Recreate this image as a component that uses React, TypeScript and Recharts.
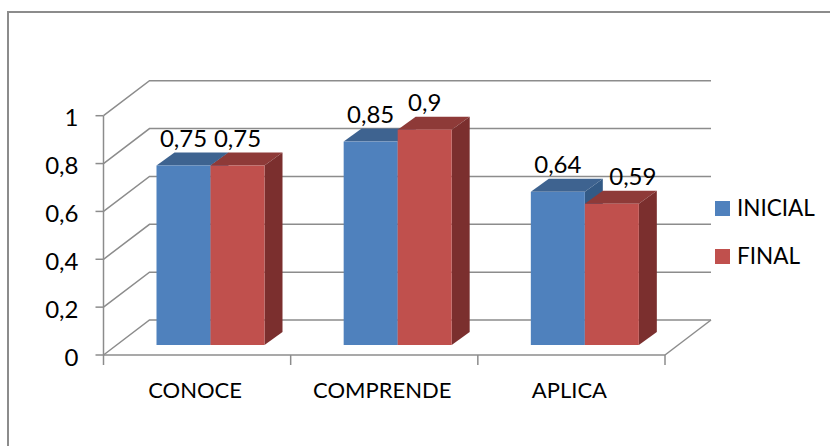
import { BarChart, Bar, XAxis, YAxis, CartesianGrid, Legend, LabelList } from 'recharts'

const categories = ['CONOCE', 'COMPRENDE', 'APLICA']
const inicial = [0.75, 0.85, 0.64]
const final = [0.75, 0.9, 0.59]
const yTicks = [0, 0.2, 0.4, 0.6, 0.8, 1]

const data = categories.map((name, i) => ({ name, INICIAL: inicial[i], FINAL: final[i] }))

const WIDTH = 830
const HEIGHT = 446
const AXIS_H = 91
const AXIS_W = 103.5
const MARGIN = { top: 115.7, right: 165, bottom: 0, left: 0 }
const FONT = 'Lato, sans-serif'
const GRID = '#8c8c8c'

// depth of the fake 3D box
const WALL_DX = 46
const WALL_DY = 35
const BAR_DX = 13
const BAR_DY = 10
const DEPTH_X = 18
const DEPTH_Y = 13

const comma = (v: number) => String(v).replace('.', ',')

function box(color: string, top: string, side: string) {
  return (props: any) => {
    const x = props.x + BAR_DX
    const y = props.y - BAR_DY
    const { width: w, height: h } = props
    return (
      <g>
        <polygon
          points={`${x},${y} ${x + DEPTH_X},${y - DEPTH_Y} ${x + w + DEPTH_X},${y - DEPTH_Y} ${x + w},${y}`}
          fill={top}
        />
        <polygon
          points={`${x + w},${y} ${x + w + DEPTH_X},${y - DEPTH_Y} ${x + w + DEPTH_X},${y + h - DEPTH_Y} ${x + w},${y + h}`}
          fill={side}
        />
        <rect x={x} y={y} width={w} height={h} fill={color} />
      </g>
    )
  }
}

const barLabel = (props: any) => (
  <text
    x={props.x + props.width / 2 + BAR_DX}
    y={props.y - BAR_DY - 19}
    textAnchor="middle"
    fontFamily={FONT}
    fontSize={24}
    fill="#000"
  >
    {comma(props.value)}
  </text>
)

// the last FINAL label sits to the right of its bar in the original
const finalLabel = (props: any) =>
  barLabel(props.index === 2 ? { ...props, x: props.x + 21 } : props)

const gridLine = (props: any) => {
  const { x1, x2, y1 } = props
  const isFloor = Math.abs(y1 - (HEIGHT - AXIS_H)) < 1
  return (
    <g key={props.key}>
      <polyline
        points={`${x1},${y1} ${x1 + WALL_DX},${y1 - WALL_DY} ${x2 + WALL_DX},${y1 - WALL_DY}`}
        fill="none"
        stroke={GRID}
        strokeWidth={1.5}
      />
      {isFloor && (
        <line x1={x2} y1={y1} x2={x2 + WALL_DX} y2={y1 - WALL_DY} stroke={GRID} strokeWidth={1.5} />
      )}
    </g>
  )
}

const CategoryTick = (props: any) => {
  const { x, y, index, payload } = props
  const band = (WIDTH - MARGIN.right - AXIS_W) / categories.length
  return (
    <g>
      <line x1={x - band / 2} y1={y} x2={x - band / 2} y2={y + 10} stroke={GRID} strokeWidth={1.5} />
      {index === categories.length - 1 && (
        <line x1={x + band / 2} y1={y} x2={x + band / 2} y2={y + 10} stroke={GRID} strokeWidth={1.5} />
      )}
      <text x={x - 2} y={y + 43} textAnchor="middle" fontFamily={FONT} fontSize={22} fill="#000">
        {payload.value}
      </text>
    </g>
  )
}

const legendContent = (props: any) => (
  <div>
    {props.payload.map((item: any) => (
      <div key={item.value} style={{ display: 'flex', alignItems: 'center', height: 48 }}>
        <span style={{ width: 15, height: 15, background: item.color, marginRight: 7 }} />
        <span style={{ fontFamily: FONT, fontSize: 22.5, color: '#000', position: 'relative', top: -1 }}>{item.value}</span>
      </div>
    ))}
  </div>
)

export default function App() {
  return (
    <div style={{ position: 'absolute', left: 0, top: 0, width: WIDTH, height: HEIGHT, overflow: 'hidden', background: '#fff' }}>
      <div
        style={{
          position: 'absolute',
          left: 7,
          top: 11,
          width: WIDTH,
          height: HEIGHT,
          borderLeft: '2px solid #8c8c8c',
          borderTop: '2px solid #8c8c8c',
        }}
      />
      <BarChart
        width={WIDTH}
        height={HEIGHT}
        data={data}
        margin={MARGIN}
        barSize={54}
        barGap={0}
        style={{ position: 'absolute', left: 0, top: 0 }}
      >
        <CartesianGrid vertical={false} horizontal={gridLine} />
        <XAxis
          dataKey="name"
          interval={0}
          height={AXIS_H}
          tickLine={false}
          tickSize={0}
          tickMargin={0}
          axisLine={{ stroke: GRID, strokeWidth: 1.5 }}
          tick={<CategoryTick />}
        />
        <YAxis
          width={AXIS_W}
          domain={[0, 1]}
          ticks={yTicks}
          interval={0}
          tickFormatter={comma}
          tickSize={8}
          tickMargin={17}
          axisLine={{ stroke: GRID, strokeWidth: 1.5 }}
          tickLine={{ stroke: GRID, strokeWidth: 1.5 }}
          tick={{ fontFamily: FONT, fontSize: 24, fill: '#000', dy: 2 }}
        />
        <Legend
          layout="vertical"
          align="center"
          verticalAlign="middle"
          itemSorter={null}
          content={legendContent}
          wrapperStyle={{ left: 715, top: 184, width: 115 }}
        />
        <Bar dataKey="INICIAL" fill="#4f81bd" isAnimationActive={false} shape={box('#4f81bd', '#3e6390', '#335a86')}>
          <LabelList dataKey="INICIAL" content={barLabel} />
        </Bar>
        <Bar dataKey="FINAL" fill="#c0504d" isAnimationActive={false} shape={box('#c0504d', '#8e3a38', '#7b2f2e')}>
          <LabelList dataKey="FINAL" content={finalLabel} />
        </Bar>
      </BarChart>
    </div>
  )
}
